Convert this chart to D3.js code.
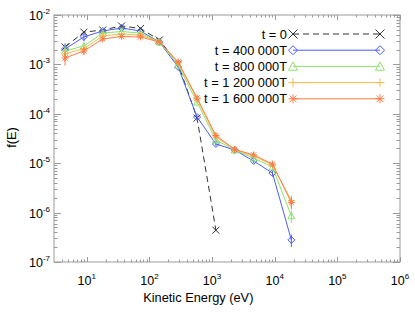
<!DOCTYPE html>
<html>
<head>
<meta charset="utf-8">
<script src="https://cdn.jsdelivr.net/npm/d3@7"></script>
<style>
  body { margin: 0; background: #fff; }
  svg { font-family: "Liberation Sans", Arial, Helvetica, sans-serif; }
</style>
</head>
<body>
<svg id="chart" width="415" height="312"></svg>
<script>
// energies (eV) of the bins
const energy = [4.5, 9, 18, 36, 72, 144, 288, 576, 1152, 2304, 4608, 9216, 18432];

// f(E) for each time
const f_t0 = [2.25e-3, 4.5e-3, 4.97e-3, 6.0e-3, 5.33e-3, 3.12e-3, 1.02e-3, 8.2e-5, 4.4e-7];
const f_t400 = [2.05e-3, 3.6e-3, 4.75e-3, 5.45e-3, 4.75e-3, 2.84e-3, 8.85e-4, 8.6e-5, 2.45e-5, 1.85e-5, 1.11e-5, 6.3e-6, 2.8e-7];
const f_t800 = [1.87e-3, 2.36e-3, 4.3e-3, 4.64e-3, 4.3e-3, 2.84e-3, 9.7e-4, 1.73e-4, 2.95e-5, 1.85e-5, 1.27e-5, 8.4e-6, 8.6e-7];
const f_t1200 = [1.63e-3, 2.1e-3, 3.76e-3, 4.12e-3, 3.94e-3, 2.84e-3, 1.07e-3, 2.0e-4, 3.39e-5, 1.88e-5, 1.4e-5, 9.2e-6, 1.75e-6];
const f_t1600 = [1.35e-3, 1.87e-3, 3.27e-3, 3.67e-3, 3.59e-3, 2.84e-3, 1.12e-3, 2.09e-4, 3.64e-5, 1.9e-5, 1.47e-5, 9.6e-6, 1.6e-6];

// relative error bar half-size per bin
const relErr = [0.3, 0.18, 0.08, 0.06, 0.06, 0.05, 0.05, 0.08, 0.1, 0.08, 0.1, 0.12, 0.28];

const labels = ["t = 0", "t = 400 000T", "t = 800 000T", "t = 1 200 000T", "t = 1 600 000T"];
const xTicks = [1e1, 1e2, 1e3, 1e4, 1e5, 1e6];
const yTicks = [1e-2, 1e-3, 1e-4, 1e-5, 1e-6, 1e-7];

const series = [
  { name: labels[0], values: f_t0, color: "#333", sym: "x", dash: "6,4", err: false },
  { name: labels[1], values: f_t400, color: "#4a5cff", sym: "diamond", err: true },
  { name: labels[2], values: f_t800, color: "#8be36a", sym: "triangle", err: true },
  { name: labels[3], values: f_t1200, color: "#ffb84d", sym: "plus", err: true },
  { name: labels[4], values: f_t1600, color: "#ff7a45", sym: "star", err: true },
];

const margin = { top: 15, right: 15, bottom: 50, left: 54 };
const width = 415 - margin.left - margin.right;
const height = 312 - margin.top - margin.bottom;

const svg = d3.select("#chart");
const g = svg.append("g").attr("transform", `translate(${margin.left},${margin.top})`);

const x = d3.scaleLog().domain([3, 1e6]).range([0, width]);
const y = d3.scaleLog().domain([1e-7, 1e-2]).range([height, 0]);

function symPath(type, s) {
  switch (type) {
    case "x": return `M${-s},${-s}L${s},${s}M${-s},${s}L${s},${-s}`;
    case "diamond": return `M0,${-s}L${s},0L0,${s}L${-s},0Z`;
    case "triangle": return `M0,${-s}L${s},${s * 0.85}L${-s},${s * 0.85}Z`;
    case "plus": return `M${-s},0H${s}M0,${-s}V${s}`;
    case "star": {
      const k = s * 0.75;
      return `M${-s},0H${s}M${-k},${-k}L${k},${k}M${-k},${k}L${k},${-k}M0,${-s}V${s}`;
    }
  }
}

// axes frame with inward IDL-style ticks
const axisColor = "#9a9a9a";
const minorX = [];
for (let e = 0; e < 6; e++) for (let m = 2; m <= 9; m++) {
  const v = m * Math.pow(10, e);
  if (v > 3 && v < 1e6) minorX.push(v);
}
const minorY = [];
for (let e = -7; e < -2; e++) for (let m = 2; m <= 9; m++) minorY.push(m * Math.pow(10, e));

const frame = g.append("g").attr("stroke", axisColor).attr("stroke-width", 1).attr("fill", "none");
frame.append("rect").attr("x", 0).attr("y", 0).attr("width", width).attr("height", height);

const xMaj = 5, xMin = 2.5, yMaj = 7, yMin = 3.5;
xTicks.concat(minorX).forEach((v) => {
  const len = xTicks.includes(v) ? xMaj : xMin;
  const px = Math.round(x(v)) + 0.5;
  frame.append("line").attr("x1", px).attr("x2", px).attr("y1", height).attr("y2", height - len);
  frame.append("line").attr("x1", px).attr("x2", px).attr("y1", 0).attr("y2", len);
});
yTicks.concat(minorY).forEach((v) => {
  const len = yTicks.includes(v) ? yMaj : yMin;
  const py = Math.round(y(v)) + 0.5;
  frame.append("line").attr("x1", 0).attr("x2", len).attr("y1", py).attr("y2", py);
  frame.append("line").attr("x1", width).attr("x2", width - len).attr("y1", py).attr("y2", py);
});

// tick labels
xTicks.forEach((v) => {
  const t = g.append("text")
    .attr("x", x(v))
    .attr("y", height + 23)
    .attr("text-anchor", "middle")
    .attr("font-size", 12.5)
    .attr("fill", "#000");
  t.append("tspan").text("10");
  t.append("tspan").attr("dy", -6).attr("font-size", 8).text(Math.round(Math.log10(v)));
});
yTicks.forEach((v) => {
  const t = g.append("text")
    .attr("x", -4)
    .attr("y", y(v) + 5)
    .attr("text-anchor", "end")
    .attr("font-size", 12.5)
    .attr("fill", "#000");
  t.append("tspan").text("10");
  t.append("tspan").attr("dy", -6).attr("font-size", 8).text(Math.round(Math.log10(v)));
});

// axis titles
g.append("text")
  .attr("x", x(300) + 19)
  .attr("y", height + 40)
  .attr("text-anchor", "middle")
  .attr("font-size", 12.8)
  .text("Kinetic Energy (eV)");
g.append("text")
  .attr("transform", `translate(${-38},${height / 2 - 1}) rotate(-90)`)
  .attr("text-anchor", "middle")
  .attr("font-size", 12.8)
  .text("f(E)");

// series
const line = d3.line().x((d) => x(d[0])).y((d) => y(d[1]));
series.forEach((s) => {
  const pts = s.values.map((v, i) => [energy[i], v]);
  const sg = g.append("g");
  sg.append("path")
    .datum(pts)
    .attr("d", line)
    .attr("fill", "none")
    .attr("stroke", s.color)
    .attr("stroke-width", 1)
    .attr("stroke-dasharray", s.dash || null);
  if (s.err) {
    sg.selectAll("line.err")
      .data(pts)
      .join("line")
      .attr("class", "err")
      .attr("x1", (d) => x(d[0]))
      .attr("x2", (d) => x(d[0]))
      .attr("y1", (d, i) => y(d[1] * (1 + relErr[i])))
      .attr("y2", (d, i) => y(d[1] * (1 - relErr[i])))
      .attr("stroke", s.color)
      .attr("stroke-width", 1);
  }
  sg.selectAll("path.mk")
    .data(pts)
    .join("path")
    .attr("class", "mk")
    .attr("transform", (d) => `translate(${x(d[0])},${y(d[1])})`)
    .attr("d", symPath(s.sym, 3.5))
    .attr("fill", "none")
    .attr("stroke", s.color)
    .attr("stroke-width", 1);
});

// legend
const legX1 = 293 - margin.left, legX2 = 380 - margin.left;
series.forEach((s, i) => {
  const ly = 34 - margin.top + i * 16.2;
  g.append("text")
    .attr("x", legX1 - 6)
    .attr("y", ly + 4.5)
    .attr("text-anchor", "end")
    .attr("font-size", 12.8)
    .attr("fill", "#000")
    .text(s.name);
  g.append("line")
    .attr("x1", legX1).attr("x2", legX2)
    .attr("y1", ly).attr("y2", ly)
    .attr("stroke", s.color)
    .attr("stroke-width", 1)
    .attr("stroke-dasharray", s.dash || null);
  [legX1, legX2].forEach((lx) => {
    g.append("path")
      .attr("transform", `translate(${lx},${ly})`)
      .attr("d", symPath(s.sym, 4.5))
      .attr("fill", "none")
      .attr("stroke", s.color)
      .attr("stroke-width", 1);
  });
});
</script>
</body>
</html>
